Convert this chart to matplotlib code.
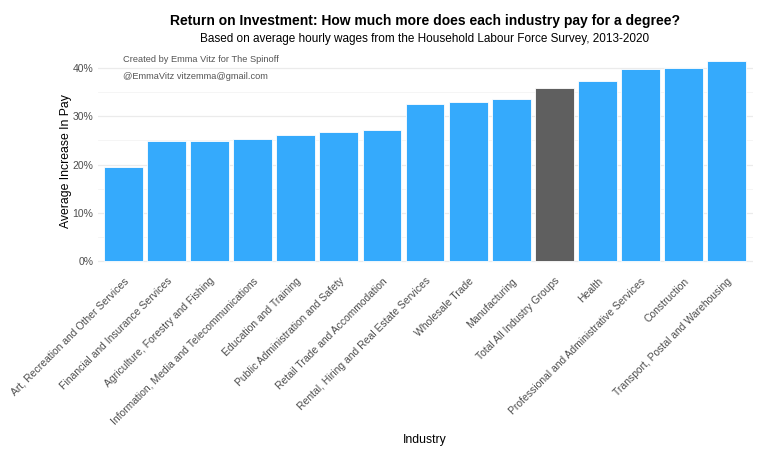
import numpy as np
import matplotlib.pyplot as plt
from matplotlib.ticker import MultipleLocator, FuncFormatter

plt.rcParams['font.family'] = ['Liberation Sans', 'DejaVu Sans']

# data (percent increase in pay)
industries = [
    "Art, Recreation and Other Services",
    "Financial and Insurance Services",
    "Agriculture, Forestry and Fishing",
    "Information, Media and Telecommunications",
    "Education and Training",
    "Public Administration and Safety",
    "Retail Trade and Accommodation",
    "Rental, Hiring and Real Estate Services",
    "Wholesale Trade",
    "Manufacturing",
    "Total All Industry Groups",
    "Health",
    "Professional and Administrative Services",
    "Construction",
    "Transport, Postal and Warehousing",
]
increase = [19.5, 24.9, 24.9, 25.3, 26.1, 26.8, 27.1, 32.6, 33.0, 33.5, 35.8, 37.3, 39.7, 40.0, 41.5]
highlight = "Total All Industry Groups"

blue = "#35aafc"
grey = "#5f5f5f"

fig = plt.figure(figsize=(7.68, 4.61), dpi=100)
ax = fig.add_axes([0.127, 0.412, 0.853, 0.478])

x = np.arange(len(industries))
colors = [grey if name == highlight else blue for name in industries]
ax.bar(x, increase, width=0.9, color=colors, edgecolor="white", linewidth=0.6, zorder=3)

# ggplot-style 5% padding
ymax = max(increase) * 1.05
ax.set_ylim(-max(increase) * 0.05, ymax)
ax.set_xlim(-0.6, len(industries) - 0.4)

ax.yaxis.set_major_locator(MultipleLocator(10))
ax.yaxis.set_minor_locator(MultipleLocator(5))
ax.yaxis.set_major_formatter(FuncFormatter(lambda v, p: f"{v:.0f}%"))
ax.grid(axis="y", which="major", color="#ebebeb", linewidth=0.9, zorder=0)
ax.grid(axis="y", which="minor", color="#f4f4f4", linewidth=0.6, zorder=0)

for s in ax.spines.values():
    s.set_visible(False)
ax.tick_params(axis="both", which="both", length=0, labelsize=7.5, labelcolor="#4d4d4d")
ax.tick_params(axis="y", pad=3)

ax.set_xticks(x)
ax.set_xticklabels(industries, rotation=45, ha="right", rotation_mode="anchor")

ax.set_ylabel("Average Increase In Pay", fontsize=8.8, color="black", labelpad=0)
ax.set_xlabel("Industry", fontsize=8.8, color="black")
ax.xaxis.set_label_coords(0.5, -0.74)

ax.text(0, 41.7, "Created by Emma Vitz for The Spinoff", fontsize=6.7, color="#555555",
        ha="left", va="center", zorder=4)
ax.text(0, 38.3, "@EmmaVitz vitzemma@gmail.com", fontsize=6.7, color="#555555",
        ha="left", va="center", zorder=4)

fig.text(0.553, 0.955, "Return on Investment: How much more does each industry pay for a degree?",
         fontsize=10, fontweight="bold", ha="center", va="center")
fig.text(0.553, 0.915, "Based on average hourly wages from the Household Labour Force Survey, 2013-2020",
         fontsize=8.5, ha="center", va="center")

fig.savefig("out.png", dpi=100)
